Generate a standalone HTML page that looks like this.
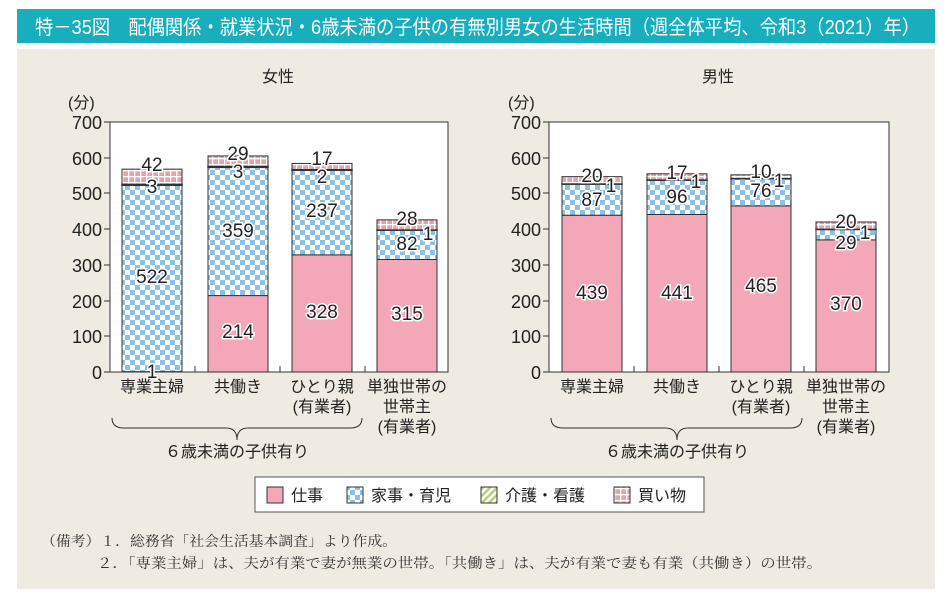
<!DOCTYPE html>
<html><head><meta charset="utf-8"><style>
body{margin:0;background:#fff;}
svg{display:block;font-family:"Liberation Sans","Noto Sans CJK JP",sans-serif;}
</style></head><body>
<svg width="952" height="597" viewBox="0 0 952 597" xmlns="http://www.w3.org/2000/svg">
<defs>
<pattern id="chk" width="10" height="10" patternUnits="userSpaceOnUse">
<rect width="10" height="10" fill="#fff"/><rect width="5" height="5" fill="#8cc1e6"/><rect x="5" y="5" width="5" height="5" fill="#8cc1e6"/></pattern>
<pattern id="shop" width="6" height="6" patternUnits="userSpaceOnUse">
<rect width="6" height="6" fill="#e9a3a8"/><rect x="0" y="2" width="6" height="1.3" fill="#fff"/><rect x="2" y="0" width="1.3" height="6" fill="#fff"/></pattern>
<pattern id="care" width="5" height="5" patternUnits="userSpaceOnUse" patternTransform="rotate(45)">
<rect width="5" height="5" fill="#fff"/><rect width="2.5" height="5" fill="#b8cf7a"/></pattern>
</defs>
<rect width="952" height="597" fill="#fff"/>
<rect x="17" y="9" width="918" height="34" fill="#19aebe"/>
<text x="35" y="34" font-size="20" fill="#fff" textLength="885" lengthAdjust="spacingAndGlyphs">特－35図　配偶関係・就業状況・6歳未満の子供の有無別男女の生活時間（週全体平均、令和3（2021）年）</text>
<rect x="17" y="49" width="918" height="540" fill="#efeae2"/>
<g font-size="16" fill="#222">
<text x="278" y="82" text-anchor="middle">女性</text>
<text x="718" y="82" text-anchor="middle">男性</text>
<text x="68" y="108">(分)</text>
<text x="508" y="108">(分)</text>
</g>
<g id="axes" font-size="18" fill="#222" text-anchor="end">
<rect x="110" y="122" width="338" height="250" fill="#fff" stroke="#333" stroke-width="1"/>
<rect x="549" y="122" width="340" height="250" fill="#fff" stroke="#333" stroke-width="1"/>
<text x="102" y="379">0</text><text x="102" y="343">100</text><text x="102" y="308">200</text><text x="102" y="272">300</text><text x="102" y="236">400</text><text x="102" y="200">500</text><text x="102" y="165">600</text><text x="102" y="129">700</text>
<text x="541" y="379">0</text><text x="541" y="343">100</text><text x="541" y="308">200</text><text x="541" y="272">300</text><text x="541" y="236">400</text><text x="541" y="200">500</text><text x="541" y="165">600</text><text x="541" y="129">700</text>
<g stroke="#333"><line x1="104" y1="372" x2="110" y2="372"/><line x1="104" y1="336" x2="110" y2="336"/><line x1="104" y1="301" x2="110" y2="301"/><line x1="104" y1="265" x2="110" y2="265"/><line x1="104" y1="229" x2="110" y2="229"/><line x1="104" y1="193" x2="110" y2="193"/><line x1="104" y1="158" x2="110" y2="158"/><line x1="104" y1="122" x2="110" y2="122"/>
<line x1="543" y1="372" x2="549" y2="372"/><line x1="543" y1="336" x2="549" y2="336"/><line x1="543" y1="301" x2="549" y2="301"/><line x1="543" y1="265" x2="549" y2="265"/><line x1="543" y1="229" x2="549" y2="229"/><line x1="543" y1="193" x2="549" y2="193"/><line x1="543" y1="158" x2="549" y2="158"/><line x1="543" y1="122" x2="549" y2="122"/>
<line x1="195" y1="366" x2="195" y2="372"/><line x1="280" y1="366" x2="280" y2="372"/><line x1="365" y1="366" x2="365" y2="372"/>
<line x1="634" y1="366" x2="634" y2="372"/><line x1="719" y1="366" x2="719" y2="372"/><line x1="804" y1="366" x2="804" y2="372"/></g>
</g>
<g id="bars" stroke="#333" stroke-width="1"></g>
<g id="lbl" font-size="19" fill="#222" text-anchor="middle" stroke="#fff" stroke-width="3" paint-order="stroke"></g>
<g font-size="16" fill="#222" text-anchor="middle">
<text x="152" y="392">専業主婦</text><text x="238" y="392">共働き</text><text x="322" y="392">ひとり親</text><text x="322" y="412">(有業者)</text><text x="407" y="392">単独世帯の</text><text x="407" y="412">世帯主</text><text x="407" y="432">(有業者)</text>
<text x="592" y="392">専業主婦</text><text x="677" y="392">共働き</text><text x="761" y="392">ひとり親</text><text x="761" y="412">(有業者)</text><text x="846" y="392">単独世帯の</text><text x="846" y="412">世帯主</text><text x="846" y="432">(有業者)</text>
<text x="237" y="457">６歳未満の子供有り</text><text x="677" y="457">６歳未満の子供有り</text>
</g>
<g fill="none" stroke="#333" stroke-width="1">
<path d="M112,418 Q112,428 124,428 L226,428 Q237,428 237,440 Q237,428 248,428 L350,428 Q362,428 362,418"/>
<path d="M551,418 Q551,428 563,428 L665,428 Q677,428 677,440 Q677,428 688,428 L790,428 Q802,428 802,418"/>
</g>
<rect x="255" y="477" width="449" height="35" fill="#fff" stroke="#555"/>
<g font-size="16" fill="#222">
<rect x="267" y="487" width="16" height="16" fill="#f4a7b9" stroke="#333"/><text x="291" y="501">仕事</text>
<rect x="347" y="487" width="16" height="16" fill="url(#chk)" stroke="#333"/><text x="371" y="501">家事・育児</text>
<rect x="481" y="487" width="16" height="16" fill="url(#care)" stroke="#333"/><text x="505" y="501">介護・看護</text>
<rect x="614" y="487" width="16" height="16" fill="url(#shop)" stroke="#333"/><text x="638" y="501">買い物</text>
</g>
<g font-size="14" fill="#333" font-family="Liberation Serif,'Noto Serif CJK SC',serif">
<text x="41" y="546" textLength="356" lengthAdjust="spacingAndGlyphs">（備考）１．総務省「社会生活基本調査」より作成。</text>
<text x="97" y="568" textLength="725" lengthAdjust="spacingAndGlyphs">２．「専業主婦」は、夫が有業で妻が無業の世帯。「共働き」は、夫が有業で妻も有業（共働き）の世帯。</text>
</g>
<script>
var k=250/700,base=372,ns="http://www.w3.org/2000/svg";
var data=[[122,[1,522,3,42]],[208,[214,359,3,29]],[292,[328,237,2,17]],[377,[315,82,1,28]],
[562,[439,87,1,20]],[647,[441,96,1,17]],[731,[465,76,1,10]],[816,[370,29,1,20]]];
var fills=["#f4a7b9","url(#chk)","url(#care)","url(#shop)"];
var g=document.getElementById("bars");
data.forEach(function(d){var c=0;d[1].forEach(function(v,i){var y0=base-c*k,y1=base-(c+v)*k;
var r=document.createElementNS(ns,"rect");r.setAttribute("x",d[0]);r.setAttribute("width",60);
r.setAttribute("y",y1);r.setAttribute("height",y0-y1);r.setAttribute("fill",fills[i]);
r.setAttribute("stroke","#333");r.setAttribute("stroke-width",i==2?1.5:1);g.appendChild(r);c+=v;});});
var L=[[152,171,"42"],[152,193,"3"],[152,283,"522"],[152,378,"1"],
[238,160,"29"],[238,178,"3"],[238,237,"359"],[238,338,"214"],
[322,165,"17"],[322,183,"2"],[322,217,"237"],[322,318,"328"],
[407,225,"28"],[428,240,"1"],[407,250,"82"],[407,320,"315"],
[592,182,"20"],[611,192,"1"],[592,206,"87"],[592,299,"439"],
[677,179,"17"],[696,188,"1"],[677,203,"96"],[677,299,"441"],
[761,178,"10"],[779,187,"1"],[761,197,"76"],[761,292,"465"],
[846,228,"20"],[865,239,"1"],[846,249,"29"],[846,310,"370"]];
var lg=document.getElementById("lbl");
L.forEach(function(l){var t=document.createElementNS(ns,"text");t.setAttribute("x",l[0]);t.setAttribute("y",l[1]);t.textContent=l[2];lg.appendChild(t);});
</script>
</svg>
</body></html>
